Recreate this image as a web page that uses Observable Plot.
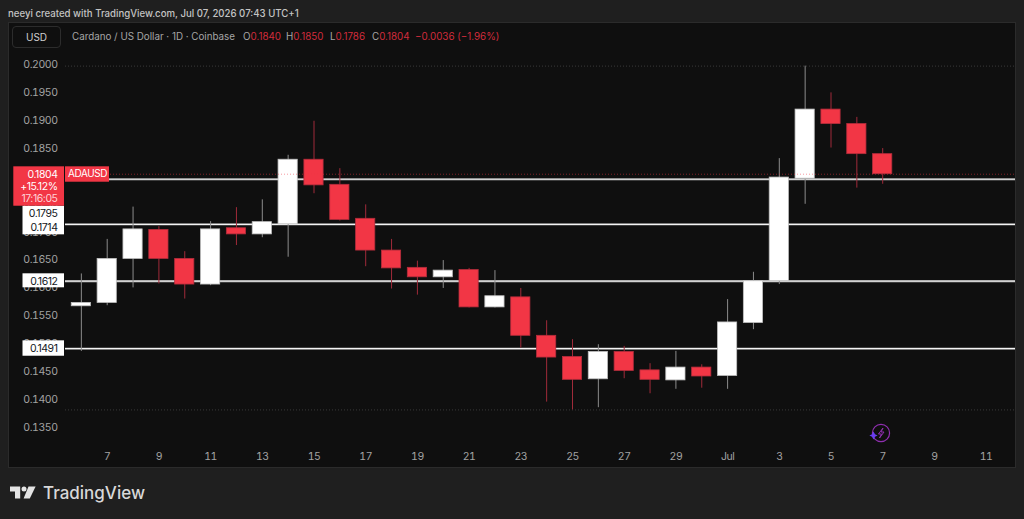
<!DOCTYPE html>
<html>
<head>
<meta charset="utf-8">
<script src="https://cdn.jsdelivr.net/npm/d3@7"></script>
<script src="https://cdn.jsdelivr.net/npm/@observablehq/plot@0.6"></script>
<style>
html,body{margin:0;padding:0;width:1024px;height:519px;overflow:hidden;background:#1f1f1f;font-family:Inter,Roboto,sans-serif}
#panel{position:absolute;left:9px;top:23px;width:1006px;height:444px;background:#0f0f0f;box-shadow:0 0 0 1px #2b2b2b}
#chart{position:absolute;left:0;top:0}
#chart text{letter-spacing:-.45px}
.h{position:absolute;white-space:nowrap}
#credit{left:8px;top:7px;font-size:9.65px;font-weight:500;color:#c4c4c4;line-height:13px}
#usd{left:12px;top:26px;width:49px;height:22px;box-sizing:border-box;border:1px solid #2c2c2c;border-radius:4px;color:#d0d0d0;font-size:10px;line-height:20px;text-align:center}
.lg{position:absolute;top:30px;font-size:9.8px;line-height:13px;color:#a6a6a6;white-space:nowrap}
.lg b{font-weight:400;color:#d22c3c}
#logo{left:10px;top:484px}
#brand{left:43px;top:482px;font-size:17px;line-height:22px;font-weight:500;color:#d8d8d8}
#bolt{left:868px;top:421px}
</style>
</head>
<body>
<div id="panel"></div>
<div id="chart"></div>
<div class="h" id="credit">neeyi created with TradingView.com, Jul 07, 2026 07:43 UTC+1</div>
<div class="h" id="usd">USD</div>
<div class="lg" style="left:72px">Cardano / US Dollar · 1D · Coinbase</div>
<div class="lg" style="left:243px">O<b>0.1840</b></div>
<div class="lg" style="left:286px">H<b>0.1850</b></div>
<div class="lg" style="left:330px">L<b>0.1786</b></div>
<div class="lg" style="left:372px">C<b>0.1804</b></div>
<div class="lg" style="left:415px"><b>−0.0036 (−1.96%)</b></div>
<svg class="h" id="bolt" width="26" height="24" viewBox="0 0 26 24">
  <circle cx="13" cy="12" r="8.6" fill="none" stroke="#8f2fb0" stroke-width="1.2"/>
  <path d="M15 7 L10.5 13 H13.5 L11.5 17 L16 11 H13 Z" fill="none" stroke="#8f2fb0" stroke-width="1"/>
  <path d="M5.5 10.5 L7 13.2 L9.6 14.5 L7 15.8 L5.5 18.5 L4 15.8 L1.4 14.5 L4 13.2 Z" fill="#6a3df0"/>
</svg>
<svg class="h" id="logo" width="28" height="18" viewBox="0 0 28 18">
  <path d="M0 2.6 H10.2 V14.6 H5 V7.6 H0 Z" fill="#e4e4e4"/>
  <circle cx="14" cy="5" r="2.5" fill="#e4e4e4"/>
  <path d="M18.5 2.6 H25.6 L19.8 14.6 H13.6 Z" fill="#e4e4e4"/>
</svg>
<div class="h" id="brand">TradingView</div>
<script>
const dates = ["2026-06-06","2026-06-07","2026-06-08","2026-06-09","2026-06-10","2026-06-11","2026-06-12","2026-06-13","2026-06-14","2026-06-15","2026-06-16","2026-06-17","2026-06-18","2026-06-19","2026-06-20","2026-06-21","2026-06-22","2026-06-23","2026-06-24","2026-06-25","2026-06-26","2026-06-27","2026-06-28","2026-06-29","2026-06-30","2026-07-01","2026-07-02","2026-07-03","2026-07-04","2026-07-05","2026-07-06","2026-07-07"];
const opens  = [.1567,.1573,.1652,.1704,.1652,.1606,.1707,.1696,.1714,.1830,.1785,.1724,.1667,.1636,.1619,.1632,.1565,.1583,.1514,.1476,.1436,.1485,.1452,.1434,.1457,.1442,.1537,.1612,.1796,.1920,.1894,.1840];
const highs  = [.1625,.1687,.1745,.1710,.1665,.1719,.1744,.1758,.1838,.1899,.1814,.1749,.1687,.1648,.1649,.1635,.1631,.1599,.1541,.1507,.1498,.1495,.1464,.1486,.1462,.1579,.1628,.1832,.1998,.1950,.1906,.1850];
const lows   = [.1486,.1568,.1600,.1607,.1580,.1604,.1676,.1690,.1655,.1769,.1720,.1638,.1598,.1587,.1599,.1564,.1564,.1492,.1395,.1381,.1385,.1437,.1410,.1418,.1420,.1418,.1525,.1606,.1750,.1851,.1779,.1786];
const closes = [.1573,.1652,.1705,.1652,.1606,.1705,.1696,.1718,.1830,.1784,.1722,.1667,.1635,.1619,.1631,.1565,.1585,.1514,.1475,.1435,.1485,.1451,.1435,.1457,.1441,.1538,.1612,.1798,.1920,.1894,.1840,.1804];

const priceTicks = [.135,.14,.145,.15,.155,.16,.165,.17,.175,.18,.185,.19,.195,.2];
const dayTicks = ["2026-06-07","2026-06-09","2026-06-11","2026-06-13","2026-06-15","2026-06-17","2026-06-19","2026-06-21","2026-06-23","2026-06-25","2026-06-27","2026-06-29","2026-07-01","2026-07-03","2026-07-05","2026-07-07","2026-07-09","2026-07-11"];
const dayLabels = ["7","9","11","13","15","17","19","21","23","25","27","29","Jul","3","5","7","9","11"];

const levels = [.1795,.1714,.1612,.1491];
const levelNames = ["0.1795","0.1714","0.1612","0.1491"];
const lastPrice = .1804;
const chartHigh = .1998, chartLow = .1381;
const lastLines = ["0.1804","+15.12%","17:16:05"];

const day = s => new Date(s + "T00:00:00Z");
const candles = dates.map((d,i) => ({date:day(d),open:opens[i],high:highs[i],low:lows[i],close:closes[i],up:closes[i]>=opens[i]}));
const ups = candles.filter(c => c.up), downs = candles.filter(c => !c.up);
const labelOf = new Map(dayTicks.map((d,i) => [+day(d),dayLabels[i]]));

const FONT = "Inter,Roboto,sans-serif";
const RED = "#f23645";
// tag: a box hung on a price; offsets in pixels from that price and from the pane's left edge
const tag = (p, left, right, top, bottom, fill) => Plot.rect([p], {y1:d=>d, y2:d=>d, insetLeft:left, insetRight:950-right, insetTop:top, insetBottom:-bottom, fill});
const tagText = (p, text, dx, dy, fill, anchor="end", fontSize=10.5) => Plot.text([p], {y:d=>d, frameAnchor:"left", text:()=>text, dx, dy, fill, textAnchor:anchor, fontSize});

const plot = Plot.plot({
  width:1024, height:519,
  marginLeft:65, marginRight:9, marginTop:23, marginBottom:69,
  style:{background:"transparent", fontFamily:FONT, fontSize:"10.5px"},
  x:{type:"utc", domain:[day("2026-06-06"),day("2026-07-12")], range:[80.85,1011.45]},
  y:{type:"linear", domain:[.135,.2], range:[426.7,64.5]},
  marks:[
    Plot.axisY({ticks:priceTicks, tickFormat:d3.format(".4f"), anchor:"left", tickSize:0, tickPadding:8, label:null, color:"#a3a3a3", fontSize:10.5}),
    Plot.axisX({ticks:dayTicks.map(day), tickFormat:d=>labelOf.get(+d), anchor:"bottom", tickSize:0, tickPadding:2, label:null, color:"#a3a3a3", fontSize:10.5}),
    Plot.ruleY([chartHigh,chartLow], {stroke:"#3a3a3a", strokeWidth:1, strokeDasharray:"1,2"}),
    Plot.ruleY(levels, {stroke:"#6e6e6e", strokeWidth:2.4}),
    Plot.ruleY(levels, {stroke:"#f4f4f4", strokeWidth:1.2}),
    Plot.ruleX(ups, {x:"date", y1:"low", y2:"high", stroke:"#8c8c8c", strokeWidth:1}),
    Plot.ruleX(downs, {x:"date", y1:"low", y2:"high", stroke:"#a02b3a", strokeWidth:1}),
    Plot.rect(ups, {x1:"date", x2:"date", y1:"open", y2:"close", insetLeft:-9.6, insetRight:-9.6, fill:"#ffffff", stroke:"#c0c0c0", strokeWidth:.8}),
    Plot.rect(downs, {x1:"date", x2:"date", y1:"open", y2:"close", insetLeft:-9.6, insetRight:-9.6, fill:RED, stroke:"#b52d3c", strokeWidth:.8}),
    Plot.ruleY([lastPrice], {stroke:"#f23645", strokeOpacity:.5, strokeWidth:1, strokeDasharray:"1,2"}),
    tag(levels[0], -42.5, -1, 27, 55.6, "#ffffff"),
    tag(levels[2], -42.5, -1, -7.4, 6.6, "#ffffff"),
    tag(levels[3], -42.5, -1, -7.8, 7.6, "#ffffff"),
    tagText(levels[0], levelNames[0], -8, 34, "#131722"),
    tagText(levels[1], levelNames[1], -8, 3.4, "#131722"),
    tagText(levels[2], levelNames[2], -8, 0, "#131722"),
    tagText(levels[3], levelNames[3], -8, 0, "#131722"),
    tag(lastPrice, -51.7, -1, -7.4, 32, RED),
    tag(lastPrice, 0, 44, -7.4, 8, RED),
    tagText(lastPrice, lastLines[0], -8, 0, "#ffffff"),
    tagText(lastPrice, lastLines[1], -8, 12.5, "#ffffff"),
    tagText(lastPrice, lastLines[2], -8, 24.5, "#ffd3d7"),
    tagText(lastPrice, "ADAUSD", 22, 0, "#ffffff", "middle", 10)
  ]
});
document.getElementById("chart").appendChild(plot);
</script>
</body>
</html>
